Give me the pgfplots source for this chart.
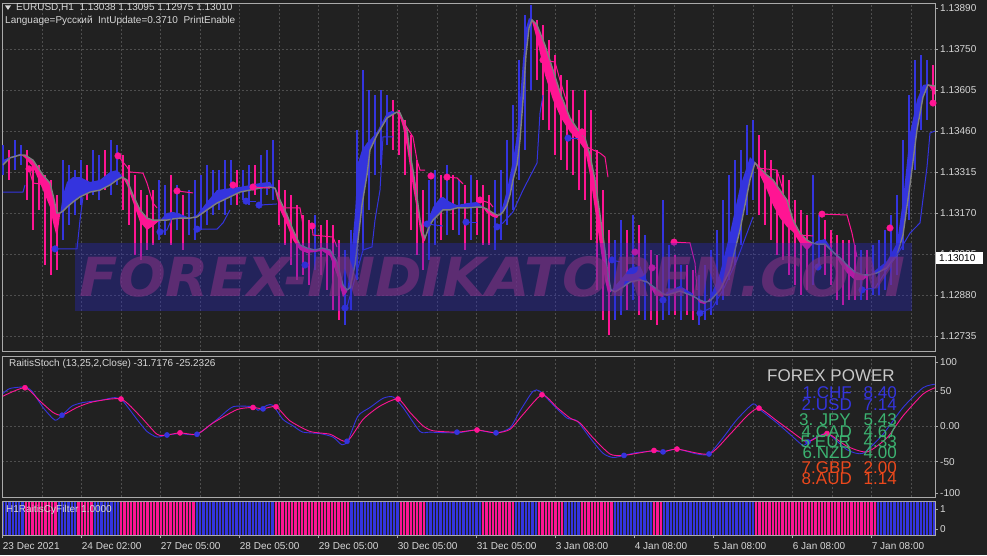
\documentclass[border=0pt]{standalone}
\usepackage{fontspec}
\setmainfont{Liberation Sans}
\newfontfamily\wmfont{DejaVu Sans}
\usepackage{graphicx}
\usepackage{pgfplots}
\usepackage{pgfplotstable}
\pgfplotsset{compat=1.18}

\definecolor{bg}{RGB}{33,33,33}
\definecolor{gridc}{RGB}{78,78,78}
\definecolor{framec}{RGB}{170,170,170}
\definecolor{txt}{RGB}{215,215,215}
\definecolor{mblue}{RGB}{52,52,222}
\definecolor{mpink}{RGB}{255,20,147}
\definecolor{mgray}{RGB}{128,128,128}
\definecolor{fgreen}{RGB}{60,179,113}
\definecolor{fred}{RGB}{236,72,28}
\definecolor{wmrect}{RGB}{40,40,200}
\definecolor{wmtext}{RGB}{130,50,130}

% slow (gray) line of the band
\pgfplotstableread{
x y
3 1.13340
10 1.13365
20 1.13375
25 1.13375
33 1.13357
43 1.13304
50 1.13276
53 1.13234
57 1.13170
60 1.13170
63 1.13177
67 1.13191
73 1.13209
80 1.13227
90 1.13244
100 1.13251
110 1.13269
117 1.13287
122 1.13297
127 1.13287
133 1.13234
140 1.13181
147 1.13152
153 1.13145
160 1.13145
167 1.13145
173 1.13149
180 1.13152
190 1.13152
197 1.13156
207 1.13181
217 1.13205
230 1.13227
240 1.13244
250 1.13251
260 1.13258
270 1.13262
275 1.13258
280 1.13216
287 1.13163
293 1.13110
300 1.13057
307 1.13046
315 1.13039
322 1.13046
330 1.13039
337 1.12997
343 1.12915
347 1.12898
350 1.12905
355 1.12986
358 1.13074
362 1.13198
367 1.13304
370 1.13393
377 1.13446
387 1.13506
392 1.13517
397 1.13527
400 1.13524
403 1.13499
407 1.13464
410 1.13382
413 1.13322
417 1.13227
420 1.13145
423 1.13099
425 1.13082
430 1.13128
433 1.13145
440 1.13170
443 1.13181
450 1.13181
457 1.13188
467 1.13188
477 1.13191
482 1.13191
487 1.13184
493 1.13170
497 1.13163
500 1.13163
503 1.13174
507 1.13198
510 1.13234
513 1.13287
517 1.13340
520 1.13428
523 1.13570
526 1.13729
529 1.13824
532 1.13853
537 1.13835
545 1.13764
553 1.13676
561 1.13587
570 1.13506
578 1.13464
585 1.13435
590 1.13375
595 1.13287
600 1.13163
605 1.13039
608 1.12951
611 1.12898
615 1.12891
623 1.12908
630 1.12926
640 1.12933
647 1.12926
655 1.12905
663 1.12884
667 1.12880
680 1.12894
693 1.12876
700 1.12862
705 1.12855
710 1.12859
720 1.12898
730 1.12968
740 1.13110
750 1.13287
755 1.13347
760 1.13329
767 1.13304
773 1.13287
780 1.13251
787 1.13216
793 1.13145
800 1.13099
807 1.13074
812 1.13064
817 1.13060
825 1.13060
833 1.13032
840 1.13011
847 1.12986
855 1.12961
863 1.12951
870 1.12951
877 1.12958
887 1.12976
897 1.13021
903 1.13092
910 1.13269
917 1.13464
923 1.13580
928 1.13623
935 1.13619
}\gline

% bar ranges (low, high)
\pgfplotstableread{
x lo hi
3 1.13304 1.13411
15 1.13322 1.13428
21 1.13340 1.13411
63 1.13074 1.13357
69 1.13128 1.13340
75 1.13163 1.13322
81 1.13198 1.13357
93 1.13234 1.13393
99 1.13216 1.13375
111 1.13234 1.13428
117 1.13269 1.13411
159 1.13074 1.13287
165 1.13092 1.13269
177 1.13110 1.13269
189 1.13092 1.13251
195 1.13074 1.13287
201 1.13110 1.13304
207 1.13128 1.13340
213 1.13163 1.13322
219 1.13181 1.13322
225 1.13163 1.13357
231 1.13198 1.13357
243 1.13216 1.13322
249 1.13198 1.13340
261 1.13198 1.13375
267 1.13234 1.13393
273 1.13216 1.13428
315 1.12968 1.13163
345 1.12774 1.13039
351 1.12827 1.13110
357 1.12933 1.13464
363 1.13039 1.13676
369 1.13181 1.13605
375 1.13304 1.13587
381 1.13340 1.13605
387 1.13411 1.13587
429 1.13004 1.13287
435 1.13057 1.13322
447 1.13092 1.13340
459 1.13092 1.13287
471 1.13074 1.13304
495 1.13039 1.13287
501 1.13074 1.13322
507 1.13128 1.13428
513 1.13181 1.13552
519 1.13287 1.13711
525 1.13393 1.13870
531 1.13605 1.13906
615 1.12791 1.13074
621 1.12809 1.13145
633 1.12862 1.13163
645 1.12791 1.13092
663 1.12791 1.13216
669 1.12809 1.13057
681 1.12791 1.12986
699 1.12774 1.12951
705 1.12791 1.12986
711 1.12809 1.13039
717 1.12845 1.13110
723 1.12862 1.13216
729 1.12933 1.13304
735 1.12986 1.13357
741 1.13057 1.13393
747 1.13163 1.13481
753 1.13216 1.13499
813 1.12915 1.13304
819 1.12968 1.13163
861 1.12862 1.13039
873 1.12880 1.13057
879 1.12880 1.13074
885 1.12898 1.13110
891 1.12915 1.13163
897 1.12951 1.13234
903 1.13039 1.13428
909 1.13145 1.13587
915 1.13322 1.13711
921 1.13464 1.13729
927 1.13499 1.13711
}\spkB
\pgfplotstableread{
x lo hi
9 1.13287 1.13393
27 1.13216 1.13393
33 1.13110 1.13357
39 1.13181 1.13340
45 1.12986 1.13304
51 1.12951 1.13287
57 1.12968 1.13234
87 1.13216 1.13340
105 1.13251 1.13393
123 1.13181 1.13375
129 1.13128 1.13340
135 1.13021 1.13304
141 1.13004 1.13251
147 1.13039 1.13234
153 1.13057 1.13251
171 1.13057 1.13304
183 1.13039 1.13234
237 1.13198 1.13322
255 1.13234 1.13340
279 1.13128 1.13287
285 1.13057 1.13251
291 1.12986 1.13234
297 1.12933 1.13198
303 1.12951 1.13163
309 1.12915 1.13145
321 1.12951 1.13128
327 1.12898 1.13145
333 1.12827 1.13128
339 1.12791 1.13074
393 1.13393 1.13570
399 1.13375 1.13534
405 1.13304 1.13499
411 1.13110 1.13446
417 1.13021 1.13357
423 1.12968 1.13251
441 1.13074 1.13304
453 1.13110 1.13304
465 1.13039 1.13269
477 1.13092 1.13287
483 1.13057 1.13269
489 1.13057 1.13234
537 1.13640 1.13853
543 1.13499 1.13835
549 1.13464 1.13782
555 1.13375 1.13729
561 1.13357 1.13658
567 1.13322 1.13640
573 1.13304 1.13605
579 1.13251 1.13534
585 1.13216 1.13605
591 1.13074 1.13534
597 1.12898 1.13393
603 1.12791 1.13251
609 1.12738 1.13110
627 1.12827 1.13110
639 1.12809 1.13128
651 1.12791 1.13039
657 1.12774 1.13021
675 1.12809 1.13021
687 1.12809 1.12986
693 1.12791 1.12968
759 1.13163 1.13446
765 1.13128 1.13393
771 1.13074 1.13357
777 1.13021 1.13322
783 1.13004 1.13304
789 1.12951 1.13287
795 1.12915 1.13216
801 1.12880 1.13181
807 1.12898 1.13163
825 1.12951 1.13145
831 1.12915 1.13110
837 1.12862 1.13092
843 1.12845 1.13074
849 1.12862 1.13074
855 1.12862 1.13057
867 1.12862 1.13039
933 1.13570 1.13694
}\spkP

% stochastic lines
\pgfplotstableread{
x y
3 47
10 54
25 56
32 50
43 27
55 9
62 16
72 29
83 34
100 37
115 41
123 36
137 10
147 -7
157 -15
167 -12
180 -10
197 -11
217 10
233 28
253 28
258 23
267 30
273 30
283 10
293 1
303 -8
320 -10
333 -15
342 -26
348 -20
358 15
370 27
383 40
393 42
403 27
420 -7
430 -8
457 -9
470 -6
477 -5
496 -9
510 -2
520 22
533 50
540 50
553 31
567 12
577 8
590 -16
603 -38
613 -44
624 -41
637 -37
653 -35
663 -36
677 -32
697 -39
709 -39
723 -16
737 10
753 32
760 24
777 5
790 -11
803 -27
808 -22
827 -10
847 -33
863 -38
883 -11
903 27
923 55
935 60
}\stB
\pgfplotstableread{
x y
3 43
25 55
40 36
53 20
62 16
77 27
93 35
121 39
140 15
157 -11
167 -12
180 -9
197 -11
213 5
237 24
253 27
263 25
276 28
290 8
310 -7
330 -11
347 -21
363 10
380 29
398 39
410 20
423 1
433 -6
457 -8
477 -5
496 -9
510 -4
523 17
542 45
557 27
570 12
580 5
593 -16
610 -39
624 -41
654 -34
663 -36
677 -32
709 -39
730 -11
747 15
759 26
777 8
800 -16
808 -22
827 -10
847 -28
867 -36
887 -16
903 15
923 46
935 55
}\stP

\pgfplotsset{
  mt/.style={
    scale only axis, width=933pt, xmin=2, xmax=935,
    axis line style={framec, line width=0.8pt},
    tick style={framec, line width=0.6pt},
    tick align=outside, major tick length=3pt,
    ytick pos=right, yticklabel pos=right,
    yticklabel style={anchor=west, inner sep=0pt, font=\fontsize{10}{12}\selectfont, text=txt, xshift=2pt},
    grid style={gridc, dash pattern=on 2pt off 2pt, line width=0.6pt},
  },
  spk/.style={draw=none, mark=none, forget plot,
    error bars/.cd, y dir=plus, y explicit, error mark=none,
    error bar style={draw=#1, line width=2pt}},
  bandB/.style={fill=mblue, draw=none, forget plot},
  bandP/.style={fill=mpink, draw=none, forget plot},
}

\begin{document}
\begin{tikzpicture}
\path[use as bounding box, fill=bg] (0pt,0pt) rectangle (987pt,555pt);

% ---------------- main price panel
\begin{axis}[mt, at={(2pt,204pt)}, anchor=south west, height=348pt,
  ymin=1.126819, ymax=1.139128,
  xtick={2.7,42.2,...,935}, xticklabels={}, major x tick style={draw=none},
  xmajorgrids, ymajorgrids,
  ytick={1.12735,1.12880,1.13025,1.13170,1.13315,1.13460,1.13605,1.13750},
  yticklabels={1.12735,1.12880,1.13025,1.13170,1.13315,1.13460,1.13605,1.13750},
  extra y ticks={1.13895}, extra y tick labels={1.13890},
  extra y tick style={grid=none}]
\addplot[spk=mblue] table[x=x, y=lo, y error plus expr=\thisrow{hi}-\thisrow{lo}] {\spkB};
\addplot[spk=mpink] table[x=x, y=lo, y error plus expr=\thisrow{hi}-\thisrow{lo}] {\spkP};
% band between fast line and slow line
\addplot[bandB] coordinates {(3,1.13357)(10,1.13368)(20,1.13379)(20,1.13375)(10,1.13365)(3,1.13340)};
\addplot[bandP] coordinates {(20,1.13379)(25,1.13365)(33,1.13333)(43,1.13251)(50,1.13191)(53,1.13138)(57,1.13082)(60,1.13163)(60,1.13170)(57,1.13170)(53,1.13234)(50,1.13276)(43,1.13304)(33,1.13357)(25,1.13375)(20,1.13375)};
\addplot[bandB] coordinates {(60,1.13163)(63,1.13234)(67,1.13280)(73,1.13297)(80,1.13297)(90,1.13280)(100,1.13287)(110,1.13315)(117,1.13322)(122,1.13301)(122,1.13297)(117,1.13287)(110,1.13269)(100,1.13251)(90,1.13244)(80,1.13227)(73,1.13209)(67,1.13191)(63,1.13177)(60,1.13170)};
\addplot[bandP] coordinates {(122,1.13301)(127,1.13269)(133,1.13209)(140,1.13138)(147,1.13110)(153,1.13124)(160,1.13145)(160,1.13145)(153,1.13145)(147,1.13152)(140,1.13181)(133,1.13234)(127,1.13287)(122,1.13297)};
\addplot[bandB] coordinates {(160,1.13145)(167,1.13170)(173,1.13174)(180,1.13167)(190,1.13152)(197,1.13163)(207,1.13209)(217,1.13251)(230,1.13258)(240,1.13262)(250,1.13269)(260,1.13276)(270,1.13280)(275,1.13251)(275,1.13258)(270,1.13262)(260,1.13258)(250,1.13251)(240,1.13244)(230,1.13227)(217,1.13205)(207,1.13181)(197,1.13156)(190,1.13152)(180,1.13152)(173,1.13149)(167,1.13145)(160,1.13145)};
\addplot[bandP] coordinates {(275,1.13251)(280,1.13181)(287,1.13128)(293,1.13074)(300,1.13039)(307,1.13029)(315,1.13032)(322,1.13036)(330,1.13018)(337,1.12951)(343,1.12873)(347,1.12891)(347,1.12898)(343,1.12915)(337,1.12997)(330,1.13039)(322,1.13046)(315,1.13039)(307,1.13046)(300,1.13057)(293,1.13110)(287,1.13163)(280,1.13216)(275,1.13258)};
\addplot[bandB] coordinates {(347,1.12891)(350,1.12968)(355,1.13170)(358,1.13347)(362,1.13393)(367,1.13418)(370,1.13428)(377,1.13457)(387,1.13524)(392,1.13531)(397,1.13524)(397,1.13527)(392,1.13517)(387,1.13506)(377,1.13446)(370,1.13393)(367,1.13304)(362,1.13198)(358,1.13074)(355,1.12986)(350,1.12905)(347,1.12898)};
\addplot[bandP] coordinates {(397,1.13524)(400,1.13510)(403,1.13474)(407,1.13403)(410,1.13333)(413,1.13262)(417,1.13181)(420,1.13110)(423,1.13064)(425,1.13074)(425,1.13082)(423,1.13099)(420,1.13145)(417,1.13227)(413,1.13322)(410,1.13382)(407,1.13464)(403,1.13499)(400,1.13524)(397,1.13527)};
\addplot[bandB] coordinates {(425,1.13074)(430,1.13163)(433,1.13191)(440,1.13223)(443,1.13227)(450,1.13209)(457,1.13198)(467,1.13205)(477,1.13209)(482,1.13195)(482,1.13191)(477,1.13191)(467,1.13188)(457,1.13188)(450,1.13181)(443,1.13181)(440,1.13170)(433,1.13145)(430,1.13128)(425,1.13082)};
\addplot[bandP] coordinates {(482,1.13195)(487,1.13170)(493,1.13156)(497,1.13152)(500,1.13167)(500,1.13163)(497,1.13163)(493,1.13170)(487,1.13184)(482,1.13191)};
\addplot[bandB] coordinates {(500,1.13167)(503,1.13198)(507,1.13251)(510,1.13304)(513,1.13357)(517,1.13446)(520,1.13570)(523,1.13711)(526,1.13824)(529,1.13860)(532,1.13849)(532,1.13853)(529,1.13824)(526,1.13729)(523,1.13570)(520,1.13428)(517,1.13340)(513,1.13287)(510,1.13234)(507,1.13198)(503,1.13174)(500,1.13163)};
\addplot[bandP] coordinates {(532,1.13849)(537,1.13782)(545,1.13658)(553,1.13570)(561,1.13506)(570,1.13457)(578,1.13428)(585,1.13393)(590,1.13304)(595,1.13181)(600,1.13057)(605,1.12933)(608,1.12887)(611,1.12891)(611,1.12898)(608,1.12951)(605,1.13039)(600,1.13163)(595,1.13287)(590,1.13375)(585,1.13435)(578,1.13464)(570,1.13506)(561,1.13587)(553,1.13676)(545,1.13764)(537,1.13835)(532,1.13853)};
\addplot[bandB] coordinates {(611,1.12891)(615,1.12912)(623,1.12944)(630,1.12976)(640,1.12983)(647,1.12930)(647,1.12926)(640,1.12933)(630,1.12926)(623,1.12908)(615,1.12891)(611,1.12898)};
\addplot[bandP] coordinates {(647,1.12930)(655,1.12880)(663,1.12873)(663,1.12884)(655,1.12905)(647,1.12926)};
\addplot[bandB] coordinates {(663,1.12873)(667,1.12891)(680,1.12912)(693,1.12884)(693,1.12876)(680,1.12894)(667,1.12880)(663,1.12884)};
\addplot[bandP] coordinates {(693,1.12884)(700,1.12852)(705,1.12848)(710,1.12869)(710,1.12859)(705,1.12855)(700,1.12862)(693,1.12876)};
\addplot[bandB] coordinates {(710,1.12869)(720,1.12958)(730,1.13099)(740,1.13262)(750,1.13368)(755,1.13350)(755,1.13347)(750,1.13287)(740,1.13110)(730,1.12968)(720,1.12898)(710,1.12859)};
\addplot[bandP] coordinates {(755,1.13350)(760,1.13304)(767,1.13251)(773,1.13198)(780,1.13152)(787,1.13121)(793,1.13103)(800,1.13064)(807,1.13039)(812,1.13057)(812,1.13064)(807,1.13074)(800,1.13099)(793,1.13145)(787,1.13216)(780,1.13251)(773,1.13287)(767,1.13304)(760,1.13329)(755,1.13347)};
\addplot[bandB] coordinates {(812,1.13057)(817,1.13071)(825,1.13078)(833,1.13036)(833,1.13032)(825,1.13060)(817,1.13060)(812,1.13064)};
\addplot[bandP] coordinates {(833,1.13036)(840,1.12993)(847,1.12958)(855,1.12933)(863,1.12933)(870,1.12951)(870,1.12951)(863,1.12951)(855,1.12961)(847,1.12986)(840,1.13011)(833,1.13032)};
\addplot[bandB] coordinates {(870,1.12951)(877,1.12972)(887,1.13000)(897,1.13064)(903,1.13216)(910,1.13453)(917,1.13570)(923,1.13623)(928,1.13626)(928,1.13623)(923,1.13580)(917,1.13464)(910,1.13269)(903,1.13092)(897,1.13021)(887,1.12976)(877,1.12958)(870,1.12951)};
\addplot[bandP] coordinates {(928,1.13626)(935,1.13587)(935,1.13619)(928,1.13623)};
\addplot[mgray, line width=1.4pt] table {\gline};
% blue trailing lines
\addplot[mblue, line width=1pt] coordinates {(3,1.13244) (23,1.13244) (25,1.13269)};
\addplot[mblue, line width=1pt] coordinates {(55,1.13043) (77,1.13043) (80,1.13145) (83,1.13227)};
\addplot[mblue, line width=1pt] coordinates {(160,1.13103) (167,1.13110) (170,1.13135) (173,1.13170)};
\addplot[mblue, line width=1pt] coordinates {(197,1.13113) (217,1.13113) (223,1.13135) (230,1.13181)};
\addplot[mblue, line width=1pt] coordinates {(246,1.13212) (256,1.13212)};
\addplot[mblue, line width=1pt] coordinates {(259,1.13198) (277,1.13202)};
\addplot[mblue, line width=1pt] coordinates {(345,1.12834) (347,1.12838) (363,1.13039) (372,1.13050) (375,1.13145) (380,1.13251) (383,1.13439) (393,1.13439)};
\addplot[mblue, line width=1pt] coordinates {(427,1.13131) (443,1.13124)};
\addplot[mblue, line width=1pt] coordinates {(466,1.13138) (477,1.13138)};
\addplot[mblue, line width=1pt] coordinates {(497,1.13121) (503,1.13135) (513,1.13174) (517,1.13205) (523,1.13251) (537,1.13347) (540,1.13524) (543,1.13587)};
\addplot[mblue, line width=1pt] coordinates {(568,1.13435) (578,1.13435)};
\addplot[mblue, line width=1pt] coordinates {(612,1.13004) (620,1.12997)};
\addplot[mblue, line width=1pt] coordinates {(700,1.12816) (713,1.12838) (723,1.12898) (737,1.13004) (747,1.13099) (753,1.13156)};
\addplot[mblue, line width=1pt] coordinates {(862,1.12898) (875,1.12905) (890,1.12986) (900,1.13039) (910,1.13099) (920,1.13135) (927,1.13333) (930,1.13453) (935,1.13460)};
% pink trailing lines
\addplot[mpink, line width=1pt] coordinates {(29,1.13326) (33,1.13276) (47,1.13269) (50,1.13241)};
\addplot[mpink, line width=1pt] coordinates {(118,1.13372) (127,1.13333) (130,1.13315) (143,1.13311) (147,1.13276) (153,1.13205) (157,1.13188)};
\addplot[mpink, line width=1pt] coordinates {(177,1.13248) (193,1.13241)};
\addplot[mpink, line width=1pt] coordinates {(253,1.13262) (270,1.13258)};
\addplot[mpink, line width=1pt] coordinates {(280,1.13188) (300,1.13188) (303,1.13128)};
\addplot[mpink, line width=1pt] coordinates {(312,1.13124) (313,1.13092) (333,1.13085) (337,1.13050)};
\addplot[mpink, line width=1pt] coordinates {(400,1.13510) (413,1.13439) (417,1.13357) (420,1.13322) (425,1.13322)};
\addplot[mpink, line width=1pt] coordinates {(447,1.13297) (457,1.13294) (463,1.13273)};
\addplot[mpink, line width=1pt] coordinates {(480,1.13216) (490,1.13205) (493,1.13191)};
\addplot[mpink, line width=1pt] coordinates {(543,1.13711) (555,1.13704) (560,1.13640) (567,1.13559)};
\addplot[mpink, line width=1pt] coordinates {(582,1.13457) (587,1.13403) (600,1.13382) (605,1.13368) (608,1.13297)};
\addplot[mpink, line width=1pt] coordinates {(674,1.13067) (690,1.13064) (695,1.12993) (697,1.12898)};
\addplot[mpink, line width=1pt] coordinates {(757,1.13329) (777,1.13322) (783,1.13251)};
\addplot[mpink, line width=1pt] coordinates {(800,1.13092) (813,1.13089)};
\addplot[mpink, line width=1pt] coordinates {(822,1.13166) (847,1.13163) (852,1.13099) (857,1.13014)};
% dots
\addplot[only marks, mark=*, mark size=3.3pt, mpink] coordinates {
 (29,1.13326) (118,1.13372) (177,1.13248) (233,1.13269) (253,1.13262) (312,1.13124)
 (431,1.13301) (447,1.13297) (480,1.13216) (543,1.13711) (582,1.13457) (635,1.13032)
 (652,1.12976) (674,1.13067) (822,1.13166) (890,1.13117) (933,1.13559)};
\addplot[only marks, mark=*, mark size=3.3pt, mblue] coordinates {
 (55,1.13043) (160,1.13103) (197,1.13113) (246,1.13212) (259,1.13198) (305,1.12986)
 (345,1.12834) (427,1.13131) (466,1.13138) (497,1.13121) (568,1.13435) (612,1.13004)
 (663,1.12862) (700,1.12816) (818,1.12979) (862,1.12898)};
\end{axis}

% watermark
\fill[wmrect, fill opacity=0.35] (75pt,244pt) rectangle (912pt,312pt);
\node[text=wmtext, text opacity=0.6, inner sep=0pt] at (492.5pt,278pt)
  {\resizebox{825pt}{40pt}{\wmfont\bfseries\itshape FOREX-INDIKATOREN.COM}};

% current price tag
\fill[white] (936pt,291pt) rectangle (983pt,303pt);
\node[anchor=west, inner sep=0pt, font=\fontsize{10}{12}\selectfont, text=black] at (939pt,297pt) {1.13010};

% header texts
\fill[txt] (5pt,549.5pt) -- (11pt,549.5pt) -- (8pt,545pt) -- cycle;
\node[anchor=west, inner sep=0pt, font=\fontsize{10}{12}\selectfont, text=txt] at (16pt,547pt)
  {EURUSD,H1~~1.13038 1.13095 1.12975 1.13010};
\node[anchor=west, inner sep=0pt, font=\fontsize{10}{12}\selectfont, text=txt] at (5pt,534pt)
  {Language=Русский~~IntUpdate=0.3710~~PrintEnable};

% ---------------- stochastic panel
\begin{axis}[mt, at={(2pt,58pt)}, anchor=south west, height=141pt,
  ymin=-100, ymax=100,
  xtick={2.7,42.2,...,935}, xticklabels={}, major x tick style={draw=none},
  xmajorgrids, ymajorgrids,
  ytick={-50,0,50}, yticklabels={-50,0.00,50},
  extra y ticks={-94.3,91.5}, extra y tick labels={-100,100},
  extra y tick style={grid=none}]
\addplot[mblue, line width=0.9pt, smooth, tension=0.4] table {\stB};
\addplot[mpink, line width=0.9pt, smooth, tension=0.4] table {\stP};
\addplot[only marks, mark=*, mark size=2.6pt, mpink] coordinates {
 (25,55) (121,39) (180,-9) (253,27) (276,28) (398,39) (477,-5) (542,45)
 (654,-34) (677,-32) (759,26) (827,-10)};
\addplot[only marks, mark=*, mark size=2.6pt, mblue] coordinates {
 (62,16) (167,-12) (197,-11) (263,25) (347,-21) (457,-8) (496,-9) (624,-41)
 (663,-36) (709,-39) (808,-22)};
\end{axis}
\node[anchor=west, inner sep=0pt, font=\fontsize{10}{12}\selectfont, text=txt] at (9pt,191pt)
  {RaitisStoch (13,25,2,Close) -31.7176 -25.2326};

% forex power table
\node[anchor=base west, inner sep=0pt, font=\fontsize{17}{17}\selectfont, text={rgb,255:red,200;green,200;blue,200}] at (767pt,174pt) {FOREX POWER};
\begin{scope}[every node/.style={anchor=base east, inner sep=0pt, font=\fontsize{17}{17}\selectfont}]
\node[text=mblue]  at (852pt,157pt) {1.CHF}; \node[text=mblue]  at (897pt,157pt) {8.40};
\node[text=mblue]  at (852pt,145pt) {2.USD}; \node[text=mblue]  at (897pt,145pt) {7.14};
\node[text=fgreen] at (851pt,130pt) {3. JPY}; \node[text=fgreen] at (897pt,130pt) {5.43};
\node[text=fgreen] at (852pt,118pt) {4.CAD}; \node[text=fgreen] at (897pt,118pt) {4.67};
\node[text=fgreen] at (851pt,108pt) {5.EUR}; \node[text=fgreen] at (897pt,108pt) {4.33};
\node[text=fgreen] at (852pt,97pt)  {6.NZD}; \node[text=fgreen] at (897pt,97pt)  {4.00};
\node[text=fred]   at (852pt,82pt)  {7.GBP}; \node[text=fred]   at (897pt,82pt)  {2.00};
\node[text=fred]   at (852pt,71pt)  {8.AUD}; \node[text=fred]   at (897pt,71pt)  {1.14};
\end{scope}

% ---------------- filter panel
\begin{axis}[mt, at={(2pt,20pt)}, anchor=south west, height=34pt,
  ymin=-0.3, ymax=1.4, axis on top,
  xtick={2.7,81.7,...,872}, xtick pos=bottom,
  xticklabels={23 Dec 2021,24 Dec 02:00,27 Dec 05:00,28 Dec 05:00,29 Dec 05:00,30 Dec 05:00,31 Dec 05:00,3 Jan 08:00,4 Jan 08:00,5 Jan 08:00,6 Jan 08:00,7 Jan 08:00},
  xticklabel style={anchor=north west, inner sep=0pt, font=\fontsize{10}{12}\selectfont, text=txt, yshift=-4pt},
  minor xtick={4.35,7.64,...,935}, xminorgrids, minor tick length=0pt,
  minor grid style={bg, line width=0.8pt, solid},
  ytick={0,1}, yticklabels={0,1}]
\addplot[fill=mblue, draw=none] coordinates {(2,-1) (2,2) (25,2) (25,-1)};
\addplot[fill=mpink, draw=none] coordinates {(25,-1) (25,2) (57,2) (57,-1)};
\addplot[fill=mblue, draw=none] coordinates {(57,-1) (57,2) (77,2) (77,-1)};
\addplot[fill=mpink, draw=none] coordinates {(77,-1) (77,2) (94,2) (94,-1)};
\addplot[fill=mblue, draw=none] coordinates {(94,-1) (94,2) (119,2) (119,-1)};
\addplot[fill=mpink, draw=none] coordinates {(119,-1) (119,2) (195,2) (195,-1)};
\addplot[fill=mblue, draw=none] coordinates {(195,-1) (195,2) (274,2) (274,-1)};
\addplot[fill=mpink, draw=none] coordinates {(274,-1) (274,2) (349,2) (349,-1)};
\addplot[fill=mblue, draw=none] coordinates {(349,-1) (349,2) (399,2) (399,-1)};
\addplot[fill=mpink, draw=none] coordinates {(399,-1) (399,2) (425,2) (425,-1)};
\addplot[fill=mblue, draw=none] coordinates {(425,-1) (425,2) (482,2) (482,-1)};
\addplot[fill=mpink, draw=none] coordinates {(482,-1) (482,2) (514,2) (514,-1)};
\addplot[fill=mblue, draw=none] coordinates {(514,-1) (514,2) (538,2) (538,-1)};
\addplot[fill=mpink, draw=none] coordinates {(538,-1) (538,2) (563,2) (563,-1)};
\addplot[fill=mblue, draw=none] coordinates {(563,-1) (563,2) (581,2) (581,-1)};
\addplot[fill=mpink, draw=none] coordinates {(581,-1) (581,2) (613,2) (613,-1)};
\addplot[fill=mblue, draw=none] coordinates {(613,-1) (613,2) (653,2) (653,-1)};
\addplot[fill=mpink, draw=none] coordinates {(653,-1) (653,2) (662,2) (662,-1)};
\addplot[fill=mblue, draw=none] coordinates {(662,-1) (662,2) (755,2) (755,-1)};
\addplot[fill=mpink, draw=none] coordinates {(755,-1) (755,2) (876,2) (876,-1)};
\addplot[fill=mblue, draw=none] coordinates {(876,-1) (876,2) (935,2) (935,-1)};
\end{axis}
\node[anchor=west, inner sep=0pt, font=\fontsize{10}{12}\selectfont, text=txt] at (6pt,45pt)
  {H1RaitisCyFilter 1.0000};

\end{tikzpicture}
\end{document}
